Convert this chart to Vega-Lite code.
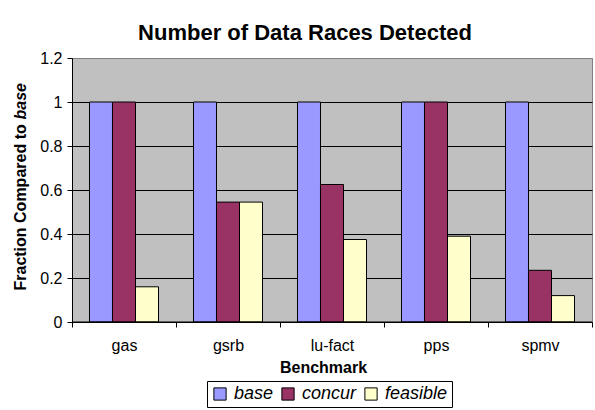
{
  "$schema": "https://vega.github.io/schema/vega-lite/v6.json",
  "width": 520,
  "height": 264,
  "autosize": "none",
  "padding": {"left": 72, "top": 58, "right": 3, "bottom": 88},
  "background": "white",
  "title": {
    "text": "Number of Data Races Detected",
    "font": "Liberation Sans",
    "fontSize": 22,
    "fontWeight": "bold",
    "color": "black",
    "anchor": "middle",
    "frame": "group",
    "dx": -27,
    "baseline": "alphabetic",
    "offset": -12
  },
  "config": {
    "font": "Liberation Sans",
    "view": {"stroke": "#808080", "strokeWidth": 1, "fill": "#C0C0C0"},
    "axis": {"labelColor": "black", "titleColor": "black", "tickColor": "black", "domainColor": "black", "labelFont": "Liberation Sans", "titleFont": "Liberation Sans"}
  },
  "data": {
    "values": [
      {"benchmark": "gas", "series": "base", "value": 1},
      {"benchmark": "gas", "series": "concur", "value": 1},
      {"benchmark": "gas", "series": "feasible", "value": 0.16},
      {"benchmark": "gsrb", "series": "base", "value": 1},
      {"benchmark": "gsrb", "series": "concur", "value": 0.545},
      {"benchmark": "gsrb", "series": "feasible", "value": 0.545},
      {"benchmark": "lu-fact", "series": "base", "value": 1},
      {"benchmark": "lu-fact", "series": "concur", "value": 0.625},
      {"benchmark": "lu-fact", "series": "feasible", "value": 0.375},
      {"benchmark": "pps", "series": "base", "value": 1},
      {"benchmark": "pps", "series": "concur", "value": 1},
      {"benchmark": "pps", "series": "feasible", "value": 0.39},
      {"benchmark": "spmv", "series": "base", "value": 1},
      {"benchmark": "spmv", "series": "concur", "value": 0.235},
      {"benchmark": "spmv", "series": "feasible", "value": 0.12}
    ]
  },
  "layer": [
    {
      "mark": {"type": "bar", "stroke": "black", "strokeWidth": 1},
      "encoding": {
        "x": {
          "field": "benchmark",
          "type": "nominal",
          "sort": ["gas", "gsrb", "lu-fact", "pps", "spmv"],
          "scale": {"paddingInner": 0, "paddingOuter": 0},
          "axis": {
            "labelAngle": 0,
            "tickBand": "extent",
            "tickSize": 5,
            "labelFontSize": 16,
            "labelPadding": 10,
            "grid": false,
            "title": "Benchmark",
            "titleFontSize": 16,
            "titleFontWeight": "bold",
            "titleBaseline": "alphabetic",
            "titleAlign": "center",
            "titleX": 251,
            "titleY": 50
          }
        },
        "xOffset": {
          "field": "series",
          "type": "nominal",
          "sort": ["base", "concur", "feasible"],
          "scale": {"paddingInner": 0, "paddingOuter": 0.76}
        },
        "y": {
          "field": "value",
          "type": "quantitative",
          "scale": {"domain": [0, 1.2], "nice": false},
          "axis": {
            "orient": "left",
            "values": [0, 0.2, 0.4, 0.6, 0.8, 1, 1.2],
            "format": "~g",
            "grid": true,
            "gridColor": {"condition": {"test": "datum.value >= 1.2", "value": "#808080"}, "value": "black"},
            "gridOpacity": 1,
            "tickSize": 5,
            "labelFontSize": 16,
            "labelPadding": 5,
            "title": "Fraction Compared to",
            "titleFontSize": 16,
            "titleFontWeight": "bold",
            "titleAngle": -90,
            "titleAlign": "left",
            "titleBaseline": "alphabetic",
            "titleX": -47,
            "titleY": 232
          }
        },
        "color": {
          "field": "series",
          "type": "nominal",
          "sort": ["base", "concur", "feasible"],
          "scale": {"domain": ["base", "concur", "feasible"], "range": ["#9999FF", "#993366", "#FFFFCC"]},
          "legend": {
            "title": null,
            "orient": "none",
            "direction": "horizontal",
            "legendX": 135,
            "legendY": 323,
            "symbolType": "square",
            "symbolSize": 150,
            "symbolStrokeColor": "black",
            "symbolStrokeWidth": 1,
            "symbolOpacity": 1,
            "labelFont": "Liberation Sans",
            "labelFontSize": 18,
            "labelFontStyle": "italic",
            "labelColor": "black",
            "labelOffset": 5,
            "columnPadding": 5,
            "padding": 4,
            "strokeColor": "black",
            "fillColor": "white"
          }
        }
      }
    },
    {
      "data": {"values": [{}]},
      "mark": {"type": "rule", "color": "black", "strokeWidth": 1},
      "encoding": {
        "y": {
          "datum": 0,
          "type": "quantitative",
          "axis": {
            "orient": "left",
            "labels": false,
            "ticks": false,
            "domain": false,
            "grid": false,
            "title": "base",
            "titleFontSize": 16,
            "titleFontWeight": "bold",
            "titleFontStyle": "italic",
            "titleAngle": -90,
            "titleAlign": "left",
            "titleBaseline": "alphabetic",
            "titleX": -47,
            "titleY": 61
          }
        }
      }
    }
  ],
  "resolve": {"axis": {"y": "independent"}}
}
